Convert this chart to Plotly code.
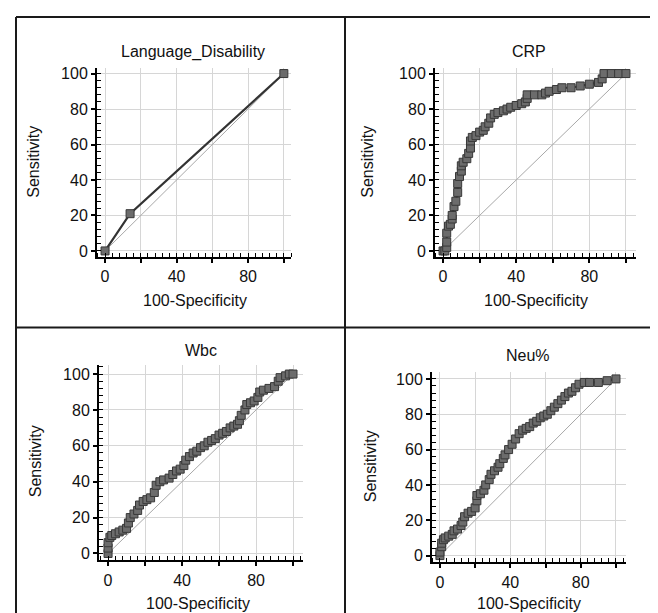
import plotly.graph_objects as go

# ---------------- data ----------------
lang_fpr = [0, 14, 100]
lang_tpr = [0, 21, 100]

crp_fpr = [0, 1, 2, 2, 2, 3, 4, 5, 5, 6, 7, 8, 8, 9, 10, 10, 11, 13, 14, 15, 15, 16, 18, 20, 22, 23, 25, 26, 28, 30,
           33, 35, 37, 40, 43, 45, 46, 46, 50, 54, 56, 58, 62, 65, 70, 75, 80, 85, 87, 88, 92, 96, 100]
crp_tpr = [0, 0, 2, 5, 10, 14, 15, 18, 20, 25, 28, 33, 38, 42, 45, 48, 50, 52, 55, 58, 62, 64, 65, 67, 68, 70, 72, 75, 77, 78,
           79, 80, 81, 82, 83, 84, 86, 88, 88, 88, 89, 90, 91, 92, 92, 93, 94, 95, 97, 100, 100, 100, 100]

wbc_fpr = [0, 0, 0, 1, 2, 4, 6, 8, 10, 11, 12, 14, 16, 17, 19, 21, 23, 25, 26, 28, 30, 33, 35, 37, 39, 41, 42, 44, 46, 48,
           50, 52, 54, 56, 58, 60, 62, 64, 66, 68, 70, 71, 72, 74, 75, 77, 79, 81, 82, 84, 87, 90, 92, 93, 96, 98, 100]
wbc_tpr = [0, 3, 6, 9, 10, 11, 12, 13, 14, 17, 20, 22, 24, 27, 29, 30, 31, 34, 38, 40, 41, 42, 44, 46, 47, 49, 52, 54, 56, 57,
           59, 60, 62, 63, 64, 66, 67, 68, 70, 71, 72, 74, 77, 80, 83, 84, 85, 87, 90, 91, 92, 93, 96, 98, 99, 100, 100]

neu_fpr = [0, 0, 1, 1, 2, 3, 5, 7, 8, 10, 12, 13, 14, 16, 18, 20, 21, 21, 23, 25, 26, 28, 29, 31, 33, 34, 36, 37, 39, 41,
           43, 45, 47, 49, 51, 53, 55, 57, 59, 61, 63, 65, 67, 69, 71, 73, 75, 77, 79, 82, 85, 90, 95, 100]
neu_tpr = [0, 2, 5, 7, 9, 10, 11, 12, 14, 15, 17, 19, 22, 24, 25, 27, 31, 34, 35, 37, 40, 43, 46, 48, 50, 52, 55, 57, 60, 63,
           66, 69, 71, 72, 73, 75, 76, 78, 79, 80, 82, 84, 86, 88, 90, 92, 93, 95, 97, 98, 98, 98, 99, 100]

diag = [0, 100]
titles = ["Language_Disability", "CRP", "Wbc", "Neu%"]
x_title = "100-Specificity"
y_title = "Sensitivity"
x_tickvals = [0, 20, 40, 60, 80, 100]
x_ticktext = ["0", "", "40", "", "80", ""]
y_tickvals = [0, 20, 40, 60, 80, 100]
y_ticktext = ["0", "20", "40", "60", "80", "100"]

series = [(lang_fpr, lang_tpr), (crp_fpr, crp_tpr), (wbc_fpr, wbc_tpr), (neu_fpr, neu_tpr)]

# ---------------- layout geometry (pixels) ----------------
W, H = 658, 613
panels = [
    dict(xpx=(89, 283), xr=(-4.5, 104), ypx=(58, 249), yr=(-3.4, 103.4), t=(185, 42), xt=(187, 293), yt=(26, 153)),
    dict(xpx=(427, 628), xr=(-4.4, 105.5), ypx=(58, 249), yr=(-3.4, 103.4), t=(521, 42), xt=(528, 293), yt=(360, 153)),
    dict(xpx=(91, 295), xr=(-4.9, 105.4), ypx=(358, 555), yr=(-3.9, 105), t=(193, 343), xt=(190, 598), yt=(27, 455)),
    dict(xpx=(424, 618), xr=(-4.5, 105.7), ypx=(365, 557), yr=(-3.9, 103.9), t=(520, 348), xt=(521, 598), yt=(362, 460)),
]

FONT = "Liberation Sans, Arial, sans-serif"
fig = go.Figure()
annotations = []
layout = {}

for i, (p, (fx, fy)) in enumerate(zip(panels, series)):
    n = "" if i == 0 else str(i + 1)
    xa, ya = "x" + n, "y" + n
    fig.add_trace(go.Scatter(x=diag, y=diag, mode="lines", xaxis=xa, yaxis=ya,
                             line=dict(color="#a8a8a8", width=1), hoverinfo="skip", showlegend=False))
    fig.add_trace(go.Scatter(x=fx, y=fy, mode="lines+markers", xaxis=xa, yaxis=ya, showlegend=False,
                             line=dict(color="#333333", width=2.2),
                             marker=dict(symbol="square", size=8, color="#6c6c6c",
                                         line=dict(color="#383838", width=1))))
    common = dict(showline=True, linecolor="black", linewidth=2, mirror=False, zeroline=False,
                  showgrid=True, gridcolor="#d6d6d6", gridwidth=1,
                  ticks="outside", ticklen=4, tickcolor="black", tickwidth=1.5,
                  tickfont=dict(family=FONT, size=16, color="#111"),
                  minor=dict(tickmode="linear", tick0=0, dtick=4, ticks="inside", ticklen=4,
                             tickcolor="black", tickwidth=1, showgrid=False),
                  fixedrange=True)
    layout["xaxis" + n] = dict(common, domain=[p["xpx"][0] / W, p["xpx"][1] / W], range=list(p["xr"]),
                               anchor=ya, tickmode="array", tickvals=x_tickvals, ticktext=x_ticktext)
    layout["yaxis" + n] = dict(common, domain=[1 - p["ypx"][1] / H, 1 - p["ypx"][0] / H], range=list(p["yr"]),
                               anchor=xa, tickmode="array", tickvals=y_tickvals, ticktext=y_ticktext)
    annotations.append(dict(text=titles[i], x=p["t"][0] / W, y=1 - p["t"][1] / H, xref="paper", yref="paper",
                            showarrow=False, xanchor="center", yanchor="middle",
                            font=dict(family=FONT, size=16, color="#111")))
    annotations.append(dict(text=x_title, x=p["xt"][0] / W, y=1 - p["xt"][1] / H, xref="paper", yref="paper",
                            showarrow=False, xanchor="center", yanchor="middle",
                            font=dict(family=FONT, size=16, color="#111")))
    annotations.append(dict(text=y_title, x=p["yt"][0] / W, y=1 - p["yt"][1] / H, xref="paper", yref="paper",
                            showarrow=False, xanchor="center", yanchor="middle", textangle=-90,
                            font=dict(family=FONT, size=16, color="#111")))

# panel frame lines
shapes = []
def hline(py, x0=8, x1=W):
    shapes.append(dict(type="line", xref="paper", yref="paper", x0=x0 / W, x1=x1 / W,
                       y0=1 - py / H, y1=1 - py / H, line=dict(color="#1a1a1a", width=2)))
def vline(px, y0=7, y1=H):
    shapes.append(dict(type="line", xref="paper", yref="paper", x0=px / W, x1=px / W,
                       y0=1 - y0 / H, y1=1 - y1 / H, line=dict(color="#1a1a1a", width=2)))
hline(7)
hline(320)
vline(8)
vline(337)

fig.update_layout(**layout)
fig.update_layout(width=W, height=H, margin=dict(l=0, r=0, t=0, b=0), autosize=False,
                  paper_bgcolor="white", plot_bgcolor="white", showlegend=False,
                  annotations=annotations, shapes=shapes, font=dict(family=FONT))
fig.write_html("out.html")
